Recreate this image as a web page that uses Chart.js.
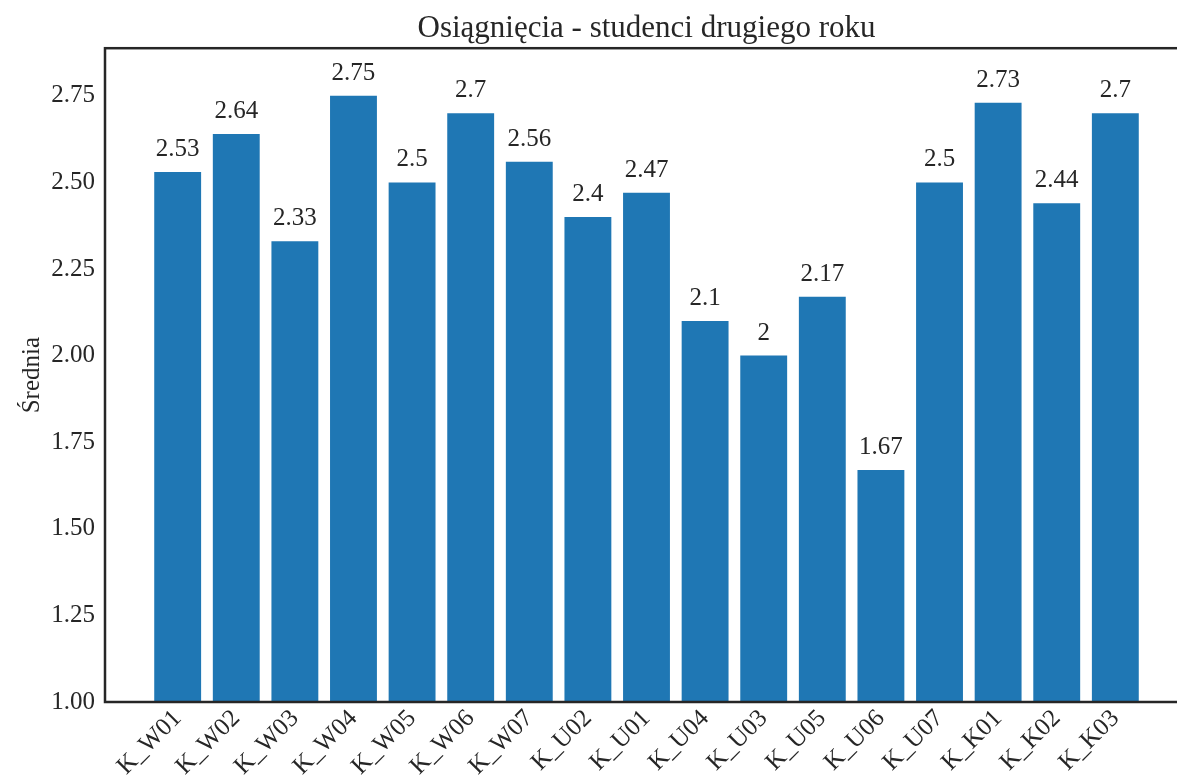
<!DOCTYPE html>
<html>
<head>
<meta charset="utf-8">
<script src="https://cdn.jsdelivr.net/npm/chart.js@4.4.1/dist/chart.umd.min.js"></script>
<style>
    html, body { margin: 0; padding: 0; background: #fff; overflow: hidden; }
    #wrap { position: relative; width: 1200px; height: 776px; }
</style>
</head>
<body>
<div id="wrap"><canvas id="chart"></canvas></div>
<script>
// Dane wykresu
const chartTitle = 'Osiągnięcia - studenci drugiego roku';
const yTitle = 'Średnia';
const categories = ['K_W01', 'K_W02', 'K_W03', 'K_W04', 'K_W05', 'K_W06', 'K_W07', 'K_U02', 'K_U01',
    'K_U04', 'K_U03', 'K_U05', 'K_U06', 'K_U07', 'K_K01', 'K_K02', 'K_K03'];
const averages = [2.53, 2.64, 2.33, 2.75, 2.5, 2.7, 2.56, 2.4, 2.47, 2.1, 2, 2.17, 1.67, 2.5, 2.73, 2.44, 2.7];
const yTicks = [1.00, 1.25, 1.50, 1.75, 2.00, 2.25, 2.50, 2.75];
const yMin = 1.0;
const yMax = 2.8875;

const textColor = '#262626';
const serif = "'Liberation Serif', 'Times New Roman', serif";

// Ramka wokol obszaru wykresu
const framePlugin = {
    id: 'frame',
    afterDraw(chart) {
        const a = chart.chartArea;
        const ctx = chart.ctx;
        ctx.save();
        ctx.strokeStyle = textColor;
        ctx.lineWidth = 2.5;
        ctx.strokeRect(a.left, a.top, a.right - a.left, a.bottom - a.top);
        ctx.restore();
    }
};

// Etykiety wartosci nad slupkami
const valueLabels = {
    id: 'valueLabels',
    afterDatasetsDraw(chart) {
        const ctx = chart.ctx;
        const meta = chart.getDatasetMeta(0);
        ctx.save();
        ctx.font = '25px ' + serif;
        ctx.fillStyle = textColor;
        ctx.textAlign = 'center';
        ctx.textBaseline = 'alphabetic';
        meta.data.forEach((bar, i) => {
            ctx.fillText(String(averages[i]), bar.x, bar.y - 16);
        });
        ctx.restore();
    }
};

const ctx = document.getElementById('chart').getContext('2d');
new Chart(ctx, {
    type: 'bar',
    data: {
        datasets: [{
            data: averages.map((v, i) => ({ x: i, y: v })),
            backgroundColor: '#1f77b4',
            borderWidth: 0,
            categoryPercentage: 1.0,
            barPercentage: 0.8
        }]
    },
    options: {
        responsive: true,
        maintainAspectRatio: false,
        animation: false,
        layout: { padding: { left: 0, right: 12, top: 0, bottom: 0 } },
        plugins: {
            legend: { display: false },
            tooltip: { enabled: false },
            title: {
                display: true,
                text: chartTitle,
                fullSize: false,
                color: textColor,
                font: { family: serif, size: 31, weight: 'normal' },
                padding: { top: 10, bottom: 1 }
            }
        },
        scales: {
            x: {
                type: 'linear',
                offset: false,
                min: -1.24,
                max: 17.24,
                grid: { display: false, drawTicks: false },
                border: { display: false },
                afterBuildTicks(scale) {
                    scale.ticks = categories.map((c, i) => ({ value: i }));
                },
                afterFit(scale) { scale.height = 74; },
                ticks: {
                    autoSkip: false,
                    minRotation: 45,
                    maxRotation: 45,
                    padding: 2,
                    color: textColor,
                    font: { family: serif, size: 25 },
                    callback: (value) => categories[value] ?? ''
                }
            },
            y: {
                min: yMin,
                max: yMax,
                grid: { display: false, drawTicks: false },
                border: { display: false },
                afterBuildTicks(scale) {
                    scale.ticks = yTicks.map(v => ({ value: v }));
                },
                afterFit(scale) { scale.width = 105; },
                title: {
                    display: true,
                    text: yTitle,
                    color: textColor,
                    font: { family: serif, size: 25 },
                    padding: { top: 17, bottom: 0 }
                },
                ticks: {
                    padding: 10,
                    color: textColor,
                    font: { family: serif, size: 25 },
                    callback: (value) => value.toFixed(2)
                }
            }
        }
    },
    plugins: [framePlugin, valueLabels]
});
</script>
</body>
</html>
